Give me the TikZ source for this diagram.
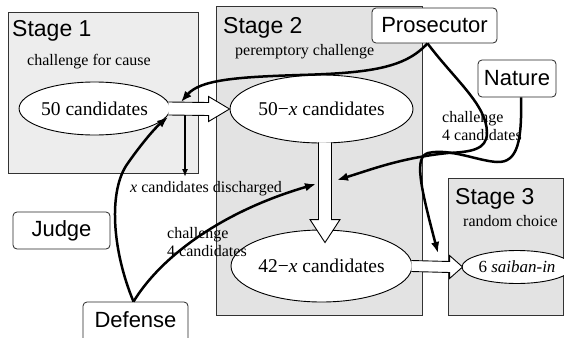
\documentclass[tikz,border=0pt]{standalone}
\usepackage{fontspec}
\setmainfont{Liberation Serif}
\newfontfamily\sansf{Liberation Sans}
\usetikzlibrary{shapes.geometric,arrows.meta,calc}
\begin{document}
\begin{tikzpicture}[x=1pt,y=-1pt,
  stagebox/.style={draw=black!80,line width=0.8pt,anchor=north west,inner sep=0pt},
  actor/.style={draw=black!85,line width=0.8pt,rounded corners=4pt,fill=white,
    font=\sansf\fontsize{22}{26}\selectfont,inner sep=0pt},
  stagelbl/.style={anchor=base west,font=\sansf\fontsize{23}{27}\selectfont,inner sep=0pt},
  sublbl/.style={anchor=base west,font=\fontsize{16}{19}\selectfont,inner sep=0pt},
  pool/.style={ellipse,draw,line width=0.9pt,fill=white,inner sep=0pt,
    font=\fontsize{19.5}{23}\selectfont},
  blockline/.style={draw,line width=0.9pt,line join=miter},
  actarrow/.style={line width=2.5pt,-{Latex[length=11pt,width=8.5pt]}},
]
\useasboundingbox (0,0) rectangle (564,337);
\fill[white] (0,0) rectangle (564,337);
\begin{scope}
\clip (0,0) rectangle (564,337);
% stage boxes
\node[stagebox,fill=gray!14,minimum width=190pt,minimum height=161pt] (s1) at (8,12) {};
\node[stagebox,fill=gray!22,minimum width=206pt,minimum height=309pt] (s2) at (216,6) {};
\node[stagebox,fill=gray!22,minimum width=115pt,minimum height=137pt] (s3) at (448,178) {};

% candidate pools
\node[pool,minimum width=115pt,minimum height=53pt] (e1) at (94.5,108.5) {50 candidates};
\node[pool,minimum width=183pt,minimum height=68pt] (e2) at (321.5,109) {50−\textit{x} candidates};
\node[pool,minimum width=181pt,minimum height=72pt] (e3) at (321.5,266) {42−\textit{x} candidates};
\begin{scope}
\clip (448,178) rectangle (564,315);
\node[pool,minimum width=110pt,minimum height=33pt,font=\fontsize{17}{20}\selectfont] (e4) at (517,267) {6 \textit{saiban-in}};
\end{scope}

% block arrow 1: e1 -> e2
\fill[white] ($(e1.east)+(-2,-6.5)$) -- ($(e2.west)+(-21,-6.5)$) -- ($(e2.west)+(-21,-12.5)$) -- (e2.west)
  -- ($(e2.west)+(-21,12.5)$) -- ($(e2.west)+(-21,6.5)$) -- ($(e1.east)+(-2,6.5)$) -- cycle;
\draw[blockline] ($(e1.east)+(-2,-6.5)$) -- ($(e2.west)+(-21,-6.5)$) -- ($(e2.west)+(-21,-12.5)$) -- (e2.west)
  -- ($(e2.west)+(-21,12.5)$) -- ($(e2.west)+(-21,6.5)$) -- ($(e1.east)+(-2,6.5)$);
% block arrow 2: e2 -> e3
\coordinate (a2s) at ($(e2.south)+(3.5,-1)$);
\coordinate (a2t) at ($(e3.north)+(3.5,13)$);
\fill[white] ($(a2s)+(-6.5,0)$) -- ($(a2t)+(-6.5,-23)$) -- ($(a2t)+(-15,-23)$) -- (a2t)
  -- ($(a2t)+(15,-23)$) -- ($(a2t)+(6.5,-23)$) -- ($(a2s)+(6.5,0)$) -- cycle;
\draw[blockline] ($(a2s)+(-6.5,0)$) -- ($(a2t)+(-6.5,-23)$) -- ($(a2t)+(-15,-23)$) -- (a2t)
  -- ($(a2t)+(15,-23)$) -- ($(a2t)+(6.5,-23)$) -- ($(a2s)+(6.5,0)$);
% block arrow 3: e3 -> e4
\coordinate (a3t) at ($(e4.west)+(1,0)$);
\fill[white] ($(e3.east)+(-1,-5.5)$) -- ($(a3t)+(-13,-5.5)$) -- ($(a3t)+(-13,-11.5)$) -- (a3t)
  -- ($(a3t)+(-13,11.5)$) -- ($(a3t)+(-13,5.5)$) -- ($(e3.east)+(-1,5.5)$) -- cycle;
\draw[blockline] ($(e3.east)+(-1,-5.5)$) -- ($(a3t)+(-13,-5.5)$) -- ($(a3t)+(-13,-11.5)$) -- (a3t)
  -- ($(a3t)+(-13,11.5)$) -- ($(a3t)+(-13,5.5)$) -- ($(e3.east)+(-1,5.5)$);

% stage labels
\node[stagelbl] (l1) at (12,37) {Stage 1};
\node[sublbl] (l1b) at (27,65) {challenge for cause};
\node[stagelbl] (l2) at (223,34) {Stage 2};
\node[sublbl] (l2b) at (235,56) {peremptory challenge};
\node[stagelbl] (l3) at (455,204) {Stage 3};
\node[sublbl] (l3b) at (463,226) {random choice};
\node[sublbl] (c1a) at (442,122) {challenge};
\node[sublbl] (c1b) at (442,140) {4 candidates};
\node[sublbl] (c2a) at (167,238) {challenge};
\node[sublbl] (c2b) at (167,256) {4 candidates};
\node[sublbl] (dis) at (130,192) {\textit{x} candidates discharged};

% actors
\node[actor,minimum width=125pt,minimum height=35pt] (pros) at (434.5,25.5) {Prosecutor};
\node[actor,minimum width=78pt,minimum height=37pt] (nat) at (517,78.5) {Nature};
\node[actor,minimum width=97pt,minimum height=37pt] (judge) at (61.5,230.5) {Judge};
\node[actor,minimum width=105pt,minimum height=40pt,text height=16pt,text depth=6pt] (def) at (135.5,322) {Defense};

% target points on the flow arrows
\coordinate (t1) at (181,102);
\coordinate (t2) at (168,117);
\coordinate (t3) at (337,180);
\coordinate (t4) at (316,184);
\coordinate (t5) at (438,253);
\coordinate (d0) at (185,115);
\coordinate (d1) at (185,177);
\coordinate (ps) at ($(pros.south)+(-7,0)$);
\coordinate (ds) at ($(def.north)+(-2,0)$);
\coordinate (ns) at ($(nat.south)+(4,0)$);

% challenges
\draw[actarrow] (ps) .. controls (405,68) and (370,73) .. (300,75)
  .. controls (235,77) and (200,80) .. (t1);
\draw[actarrow] (ps) .. controls (455,80) and (487,105) .. (487,133)
  .. controls (487,150) and (470,152) .. (448,153)
  .. controls (400,158) and (370,170) .. (t3);
\draw[actarrow] (ns) .. controls (522,140) and (518,163) .. (497,162)
  .. controls (478,161) and (450,148) .. (428,153)
  .. controls (414,157) and (420,185) .. (t5);
\draw[actarrow] (ds) .. controls (112,250) and (108,190) .. (128,163)
  .. controls (142,143) and (155,128) .. (t2);
\draw[actarrow] (ds) .. controls (160,258) and (220,212) .. (t4);
\draw[line width=1.5pt,-{Latex[length=8pt,width=6pt]}] (d0) -- (d1);
\end{scope}
\end{tikzpicture}
\end{document}
